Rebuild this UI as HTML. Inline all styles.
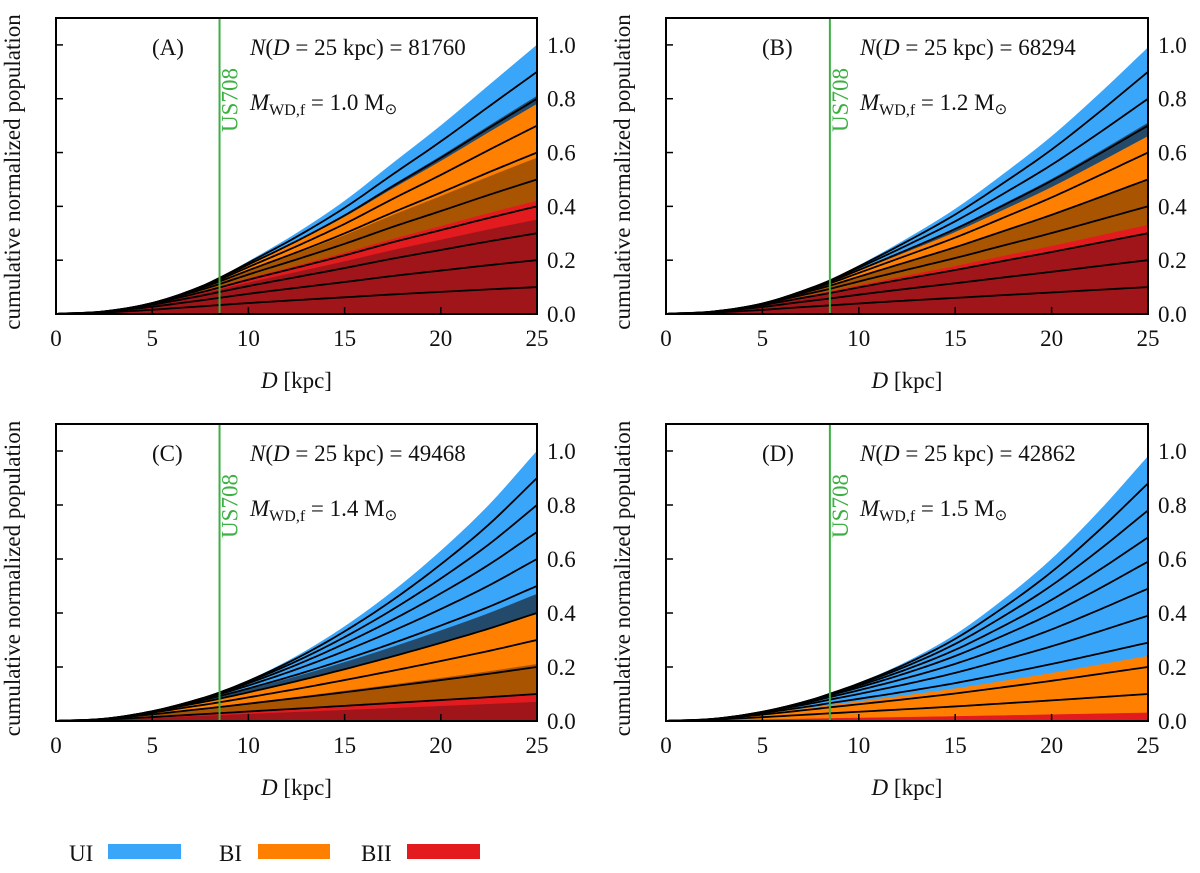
<!DOCTYPE html>
<html><head><meta charset="utf-8"><style>
body{margin:0;background:#fff}
svg text{font-family:"Liberation Serif",serif;fill:#111}
</style></head><body>
<svg id="fig" width="1200" height="868" viewBox="0 0 1200 868" xmlns="http://www.w3.org/2000/svg">
<g>
<text x="69" y="861" font-size="23">UI</text>
<rect x="108" y="844" width="73" height="15" fill="#3aa6fa"/>
<text x="219" y="861" font-size="23">BI</text>
<rect x="258" y="844" width="72" height="15" fill="#ff8000"/>
<text x="361" y="861" font-size="23">BII</text>
<rect x="407" y="844" width="73" height="15" fill="#e31b1f"/>
</g>
</svg>
<script>
// Shared distance grid (kpc)
const dGrid = [0, 2.5, 5, 7.5, 8.5, 10, 12.5, 15, 17.5, 20, 22.5, 25];
// Total cumulative curves per panel
const totalA = [0, 0.005, 0.035, 0.10, 0.135, 0.195, 0.30, 0.42, 0.56, 0.70, 0.85, 1.00];
const totalB = [0, 0.005, 0.033, 0.095, 0.125, 0.18, 0.28, 0.39, 0.52, 0.66, 0.82, 0.99];
const totalC = [0, 0.004, 0.030, 0.080, 0.105, 0.15, 0.24, 0.35, 0.48, 0.63, 0.80, 1.00];
const totalD = [0, 0.004, 0.028, 0.075, 0.100, 0.14, 0.22, 0.32, 0.45, 0.60, 0.78, 0.98];
// Black line end values at D = 25 kpc
const linesA = [0.1, 0.2, 0.3, 0.4, 0.5, 0.6, 0.7, 0.8, 0.9];
const linesB = [0.1, 0.2, 0.3, 0.4, 0.5, 0.6, 0.7, 0.8, 0.9];
const linesC = [0.1, 0.2, 0.3, 0.4, 0.5, 0.6, 0.7, 0.8, 0.9];
const linesD = [0.1, 0.2, 0.29, 0.39, 0.49, 0.59, 0.68, 0.78, 0.88];
// Band boundaries at D = 25 (upper edge of each band) and categories
const bandTopsA = [1.00, 0.81, 0.78, 0.58, 0.42, 0.35];
const bandTopsB = [0.99, 0.71, 0.66, 0.50, 0.33, 0.30];
const bandTopsC = [1.00, 0.47, 0.40, 0.21, 0.10, 0.07];
const bandTopsD = [0.98, 0.24, 0.03];
const bandCatsA = ["UI", "UIx", "BI", "BIx", "BII", "BIIx"];
const bandCatsB = ["UI", "UIx", "BI", "BIx", "BII", "BIIx"];
const bandCatsC = ["UI", "UIx", "BI", "BIx", "BII", "BIIx"];
const bandCatsD = ["UI", "BI", "BII"];
const nLabels = ["81760", "68294", "49468", "42862"];
const massLabels = ["1.0", "1.2", "1.4", "1.5"];
const panelTags = ["(A)", "(B)", "(C)", "(D)"];
const xTicks = [0, 5, 10, 15, 20, 25];
const yTicks = [0.0, 0.2, 0.4, 0.6, 0.8, 1.0];
const us708D = 8.5;

const catColor = {UI:"#3aa6fa", UIx:"#234a6b", BI:"#ff8000", BIx:"#a85400", BII:"#e31b1f", BIIx:"#a01519"};
const NS = "http://www.w3.org/2000/svg";
const svg = document.getElementById('fig');
function mk(tag, attrs, parent){const e=document.createElementNS(NS,tag);for(const k in attrs)e.setAttribute(k,attrs[k]);parent.appendChild(e);return e;}

const panels = [
 {x0:56,x1:537,y0:18,y1:314,tot:totalA,lines:linesA,bands:bandTopsA,cats:bandCatsA},
 {x0:666,x1:1148,y0:18,y1:314,tot:totalB,lines:linesB,bands:bandTopsB,cats:bandCatsB},
 {x0:56,x1:537,y0:424,y1:721,tot:totalC,lines:linesC,bands:bandTopsC,cats:bandCatsC},
 {x0:666,x1:1148,y0:424,y1:721,tot:totalD,lines:linesD,bands:bandTopsD,cats:bandCatsD}
];

// monotone cubic (Fritsch-Carlson) interpolation
function interp(arr, d){
  const n=dGrid.length, h=[], s=[];
  for(let i=0;i<n-1;i++){h.push(dGrid[i+1]-dGrid[i]);s.push((arr[i+1]-arr[i])/h[i]);}
  const m=[s[0]];
  for(let i=1;i<n-1;i++){ m.push(s[i-1]*s[i]<=0?0:(s[i-1]+s[i])/2); }
  m.push(s[n-2]);
  for(let i=0;i<n-1;i++){ if(s[i]===0){m[i]=0;m[i+1]=0;continue;} const a=m[i]/s[i],b=m[i+1]/s[i],q=a*a+b*b; if(q>9){const t=3/Math.sqrt(q);m[i]=t*a*s[i];m[i+1]=t*b*s[i];} }
  let i=0; while(i<n-2 && d>dGrid[i+1]) i++;
  const t=(d-dGrid[i])/h[i], t2=t*t, t3=t2*t;
  return (2*t3-3*t2+1)*arr[i]+(t3-2*t2+t)*h[i]*m[i]+(-2*t3+3*t2)*arr[i+1]+(t3-t2)*h[i]*m[i+1];
}
function curveVal(tot, e, d){
  const T25 = tot[tot.length-1];
  const T = interp(tot, d);
  const f = Math.min(1, e/T25);
  const p = 0.5 + 0.5*f;
  return e * Math.pow(Math.max(T/T25,0), p);
}
const steps=[]; for(let d=0; d<=25.0001; d+=0.25) steps.push(d);

panels.forEach((P, pi)=>{
  const xs = d=>P.x0+(P.x1-P.x0)*d/25;
  const ys = v=>P.y1-(P.y1-P.y0)*v/1.1;
  const g = mk('g',{},svg);
  
  
  P.bands.forEach((top,bi)=>{
    const bot = bi+1<P.bands.length?P.bands[bi+1]:0;
    let pts=[];
    steps.forEach(d=>pts.push(xs(d).toFixed(2)+','+ys(curveVal(P.tot,top,d)).toFixed(2)));
    for(let i=steps.length-1;i>=0;i--){const d=steps[i];pts.push(xs(d).toFixed(2)+','+ys(bot>0?curveVal(P.tot,bot,d):0).toFixed(2));}
    const poly = mk('polygon',{points:pts.join(' '),fill:catColor[P.cats[bi]],stroke:catColor[P.cats[bi]],'stroke-width':0.5},g);
    
    
  });
  P.lines.forEach((e,li)=>{
    const pts=steps.map(d=>xs(d).toFixed(2)+','+ys(curveVal(P.tot,e,d)).toFixed(2)).join(' ');
    const pl=mk('polyline',{points:pts,fill:'none',stroke:'#000','stroke-width':1.8},g);
    
    
  });
  const gl=mk('line',{x1:xs(us708D),x2:xs(us708D),y1:P.y0,y2:P.y1,stroke:'#3cb043','stroke-width':2},g);
  
  
  const gx=xs(us708D)+18, gy=P.y0+82;
  const gt=mk('text',{x:gx,y:gy,'font-size':23,'text-anchor':'middle',transform:`rotate(-90 ${gx} ${gy})`},g);
  gt.style.fill='#3cb043';
  gt.textContent='US708';
  
  
  const fr=mk('rect',{x:P.x0,y:P.y0,width:P.x1-P.x0,height:P.y1-P.y0,fill:'none',stroke:'#000','stroke-width':2},g);
  
  
  xTicks.forEach(t=>{
    if(t>0&&t<25){const tk=mk('line',{x1:xs(t),x2:xs(t),y1:P.y1,y2:P.y1-7,stroke:'#000','stroke-width':1.5},g);
    
    }
    const tl=mk('text',{x:xs(t),y:P.y1+32,'font-size':23,'text-anchor':'middle'},g);
    tl.textContent=String(t);
    
    
  });
  yTicks.forEach(t=>{
    if(t>0){const tk=mk('line',{x1:P.x0,x2:P.x0+7,y1:ys(t),y2:ys(t),stroke:'#000','stroke-width':1.5},g);
    
    }
    const tl=mk('text',{x:P.x1+10,y:ys(t)+8,'font-size':23},g);
    tl.textContent=t.toFixed(1);
    
    
  });
  const xt=mk('text',{x:(P.x0+P.x1)/2,y:P.y1+74,'font-size':23,'text-anchor':'middle'},g);
  xt.innerHTML='<tspan font-style="italic">D</tspan> [kpc]';
  
  
  const yx=P.x0-36, yy=(P.y0+P.y1)/2+6;
  const yt=mk('text',{x:yx,y:yy,'font-size':23,'text-anchor':'middle',transform:`rotate(-90 ${yx} ${yy})`},g);
  yt.textContent='cumulative normalized population';
  
  
  const tag=mk('text',{x:P.x0+96,y:P.y0+37,'font-size':23},g);
  tag.textContent=panelTags[pi];
  
  
  const nt=mk('text',{x:P.x0+194,y:P.y0+37,'font-size':23},g);
  nt.innerHTML='<tspan font-style="italic">N</tspan>(<tspan font-style="italic">D</tspan> = 25 kpc) = '+nLabels[pi];
  
  
  const mt=mk('text',{x:P.x0+194,y:P.y0+92,'font-size':23},g);
  mt.innerHTML='<tspan font-style="italic">M</tspan><tspan font-size="16" dy="5">WD,f</tspan><tspan dy="-5"> = '+massLabels[pi]+' M</tspan><tspan font-size="15" dy="4">⊙</tspan>';
  
  
});
</script>
</body></html>
